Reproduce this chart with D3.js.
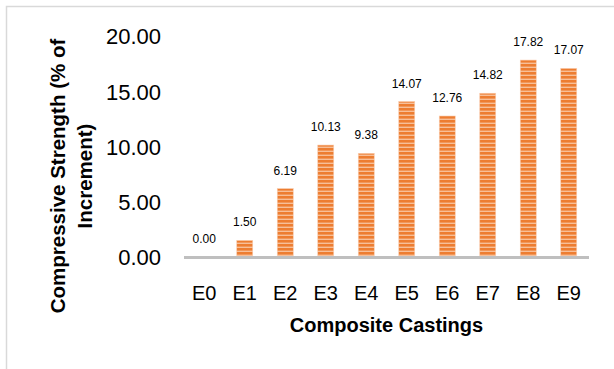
<!DOCTYPE html>
<html>
<head>
<meta charset="utf-8">
<script src="https://cdn.jsdelivr.net/npm/d3@7"></script>
<style>
  html, body { margin: 0; padding: 0; background: #fff; }
  svg { display: block; }
  text { font-family: "Liberation Sans", Arial, sans-serif; fill: #000; }
</style>
</head>
<body>
<svg id="chart" width="614" height="369"></svg>
<script>
// Composite castings and their compressive-strength gain (%)
const castings = ["E0", "E1", "E2", "E3", "E4", "E5", "E6", "E7", "E8", "E9"];
const strengthGain = [0.00, 1.50, 6.19, 10.13, 9.38, 14.07, 12.76, 14.82, 17.82, 17.07];
const yTicks = [0, 5, 10, 15, 20];
const yTitleLines = ["Compressive Strength (% of", "Increment)"];
const xTitle = "Composite Castings";

const svg = d3.select("#chart");

// outer chart frame (runs past the right and bottom edges)
svg.append("rect")
  .attr("x", 6.5).attr("y", 6.5)
  .attr("width", 640).attr("height", 400)
  .attr("fill", "none")
  .attr("stroke", "#d9d9d9")
  .attr("stroke-width", 1.5);

// striped fill for the bars
const defs = svg.append("defs");
const pat = defs.append("pattern")
  .attr("id", "stripes")
  .attr("patternUnits", "userSpaceOnUse")
  .attr("width", 8).attr("height", 4);
pat.append("rect").attr("width", 8).attr("height", 4).attr("fill", "#f7bf98");
pat.append("rect").attr("width", 8).attr("height", 2.6).attr("fill", "#ed7d31");

const plot = { left: 184, right: 589, top: 36, bottom: 257 };

const x = d3.scaleBand()
  .domain(castings)
  .range([plot.left, plot.right])
  .paddingInner(0.6)
  .paddingOuter(0.3);

const xc = d3.scaleBand().domain(castings).range([plot.left, plot.right]);

const y = d3.scaleLinear()
  .domain([0, 20])
  .range([plot.bottom, plot.top]);

// y-axis tick labels (no axis line, no gridlines)
const yAxis = d3.axisLeft(y)
  .tickValues(yTicks)
  .tickFormat(d3.format(".2f"))
  .tickSize(0)
  .tickPadding(0);
const gy = svg.append("g")
  .attr("transform", `translate(161,0)`)
  .call(yAxis);
gy.select(".domain").remove();
gy.selectAll("text")
  .attr("font-size", 22)
  .attr("font-family", "'Liberation Sans', Arial, sans-serif")
  .attr("fill", "#000")
  .attr("dy", "0.36em");

// bars
const data = castings.map((c, i) => ({ c, v: strengthGain[i] }));
svg.append("g").selectAll("rect")
  .data(data)
  .join("rect")
  .attr("x", d => xc(d.c) + xc.bandwidth() / 2 - 8)
  .attr("width", 16)
  .attr("y", d => y(d.v))
  .attr("height", d => y(0) - y(d.v))
  .attr("fill", "url(#stripes)")
  .attr("stroke", "#f9cdb0")
  .attr("stroke-width", 0.6);

// value labels
svg.append("g").selectAll("text")
  .data(data)
  .join("text")
  .attr("x", d => xc(d.c) + xc.bandwidth() / 2)
  .attr("y", d => y(d.v) - 14)
  .attr("text-anchor", "middle")
  .attr("font-size", 12)
  .text(d => d3.format(".2f")(d.v));

// baseline
svg.append("line")
  .attr("x1", plot.left).attr("x2", plot.right)
  .attr("y1", y(0) + 0.5).attr("y2", y(0) + 0.5)
  .attr("stroke", "#bfbfbf")
  .attr("stroke-width", 3);

// x-axis category labels
const xAxis = d3.axisBottom(xc).tickSize(0).tickPadding(0);
const gx = svg.append("g")
  .attr("transform", `translate(0,${y(0)})`)
  .call(xAxis);
gx.select(".domain").remove();
gx.selectAll("text")
  .attr("font-size", 20)
  .attr("font-family", "'Liberation Sans', Arial, sans-serif")
  .attr("fill", "#000")
  .attr("dy", null)
  .attr("y", 43);

// axis titles
svg.append("text")
  .attr("x", (plot.left + plot.right) / 2)
  .attr("y", 332)
  .attr("text-anchor", "middle")
  .attr("font-size", 20)
  .attr("font-weight", "bold")
  .text(xTitle);

const yt = svg.append("text")
  .attr("transform", "translate(0,176) rotate(-90)")
  .attr("text-anchor", "middle")
  .attr("font-size", 20.5)
  .attr("font-weight", "bold");
yTitleLines.forEach((line, i) => {
  yt.append("tspan")
    .attr("x", 0)
    .attr("y", 65 + i * 27)
    .text(line);
});
</script>
</body>
</html>
